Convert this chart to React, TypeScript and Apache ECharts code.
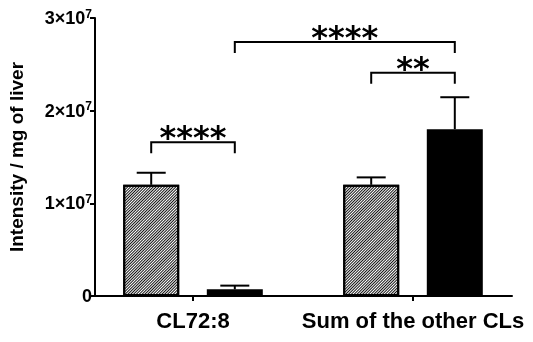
import React, { useEffect, useRef } from "react";
import * as echarts from "echarts";

const categories = ["CL72:8", "Sum of the other CLs"];
const groupPositions = [1, 2];
const barOffsets = [-0.19, 0.19];
const hatchedMeans = [1.2e7, 1.2e7];
const hatchedErrors = [0.13e7, 0.08e7];
const solidMeans = [0.072e7, 1.8e7];
const solidErrors = [0.04e7, 0.345e7];
// brackets between bars: bar index pairs (0 hatched CL72:8, 1 solid CL72:8, 2 hatched sum, 3 solid sum)
const bracketFrom = [0, 2, 1];
const bracketTo = [1, 3, 3];
const bracketHeights = [1.66e7, 2.41e7, 2.74e7];
const bracketLabels = ["****", "**", "****"];
const yTicks = [0, 1e7, 2e7, 3e7];

const FONT = "'Liberation Sans', Arial, Helvetica, sans-serif";

export default function App() {
  const ref = useRef<HTMLDivElement>(null);
  useEffect(() => {
    if (!ref.current) return;
    const chart = echarts.init(ref.current, undefined, { renderer: "svg" });

    const barX: number[] = [];
    const barMeans: number[] = [];
    const barErrs: number[] = [];
    groupPositions.forEach((g, i) => {
      barX.push(g + barOffsets[0], g + barOffsets[1]);
      barMeans.push(hatchedMeans[i], solidMeans[i]);
      barErrs.push(hatchedErrors[i], solidErrors[i]);
    });

    const hatchStyle = {
      color: "#fff",
      borderColor: "#000",
      borderWidth: 2,
      decal: {
        symbol: "rect",
        symbolSize: 1,
        dashArrayX: [1, 0],
        dashArrayY: [1, 1],
        rotation: -Math.PI / 4,
        color: "#111",
        backgroundColor: "#fff",
      },
    };
    const solidStyle = { color: "#000", borderColor: "#000", borderWidth: 2 };

    const barData = barX.map((x, i) => ({
      value: [x, barMeans[i]],
      itemStyle: i % 2 === 0 ? hatchStyle : solidStyle,
    }));

    const errData = barX.map((x, i) => [x, barMeans[i], barMeans[i] + barErrs[i]]);
    const bracketData = bracketFrom.map((f, i) => [barX[f], barX[bracketTo[i]], bracketHeights[i], i]);

    chart.setOption({
      animation: false,
      grid: { left: 95, right: 21, top: 18, bottom: 46, outerBoundsMode: "none", containLabel: false },
      xAxis: {
        type: "value",
        min: 0.5545,
        max: 2.45,
        splitLine: { show: false },
        axisLine: { show: true, lineStyle: { color: "#000", width: 2 } },
        axisTick: {
          show: true,
          customValues: groupPositions,
          length: 5,
          lineStyle: { color: "#000", width: 2 },
        },
        axisLabel: {
          customValues: groupPositions,
          formatter: (v: number) => categories[groupPositions.indexOf(v)] ?? "",
          fontFamily: FONT,
          fontWeight: "bold",
          fontSize: 22,
          color: "#000",
          margin: 13,
        },
      },
      yAxis: {
        type: "value",
        min: 0,
        max: 3e7,
        interval: 1e7,
        name: "Intensity / mg of liver",
        nameLocation: "middle",
        nameRotate: 90,
        nameGap: 69,
        nameTextStyle: { fontFamily: FONT, fontWeight: "bold", fontSize: 19, color: "#000" },
        splitLine: { show: false },
        axisLine: { show: true, lineStyle: { color: "#000", width: 2 } },
        axisTick: { show: true, length: 5, lineStyle: { color: "#000", width: 2 } },
        axisLabel: {
          margin: 3,
          fontFamily: FONT,
          fontWeight: "bold",
          fontSize: 18,
          color: "#000",
          formatter: (v: number) => {
            if (!yTicks.includes(v)) return "";
            return v === 0 ? "{a|0}" : `{a|${v / 1e7}×10}{s|7}`;
          },
          rich: {
            a: { fontFamily: FONT, fontWeight: "bold", fontSize: 18, color: "#000" },
            s: { fontFamily: FONT, fontWeight: "bold", fontSize: 12, color: "#000", verticalAlign: "top", padding: [0, 0, 9, 0] },
          },
        },
      },
      series: [
        {
          type: "bar",
          data: barData,
          barWidth: 56,
          z: 3,
        },
        {
          type: "custom",
          z: 2,
          clip: false,
          data: errData,
          renderItem: (params: any, api: any) => {
            const x = api.value(0);
            const p0 = api.coord([x, api.value(1)]);
            const p1 = api.coord([x, api.value(2)]);
            const half = 14.5;
            return {
              type: "group",
              children: [
                { type: "line", shape: { x1: p0[0], y1: p0[1], x2: p1[0], y2: p1[1] }, style: { stroke: "#000", lineWidth: 2 } },
                { type: "line", shape: { x1: p1[0] - half, y1: p1[1], x2: p1[0] + half, y2: p1[1] }, style: { stroke: "#000", lineWidth: 2 } },
              ],
            };
          },
        },
        {
          type: "custom",
          z: 4,
          clip: false,
          data: bracketData,
          renderItem: (params: any, api: any) => {
            const a = api.coord([api.value(0), api.value(2)]);
            const b = api.coord([api.value(1), api.value(2)]);
            const idx = api.value(3);
            const leg = 11;
            return {
              type: "group",
              children: [
                {
                  type: "polyline",
                  shape: { points: [[a[0], a[1] + leg], [a[0], a[1]], [b[0], b[1]], [b[0], b[1] + leg]] },
                  style: { stroke: "#000", lineWidth: 2, fill: "none" },
                },
                {
                  type: "text",
                  x: (a[0] + b[0]) / 2,
                  y: a[1] - 5,
                  style: {
                    text: bracketLabels[idx],
                    fontFamily: "'DejaVu Sans', sans-serif",
                    fontWeight: "bold",
                    fontSize: 32,
                    fill: "#000",
                    align: "center",
                    verticalAlign: "middle",
                  },
                },
              ],
            };
          },
        },
      ],
    });
    return () => chart.dispose();
  }, []);
  return <div ref={ref} style={{ position: "fixed", left: 0, top: 0, width: 533, height: 342 }} />;
}
